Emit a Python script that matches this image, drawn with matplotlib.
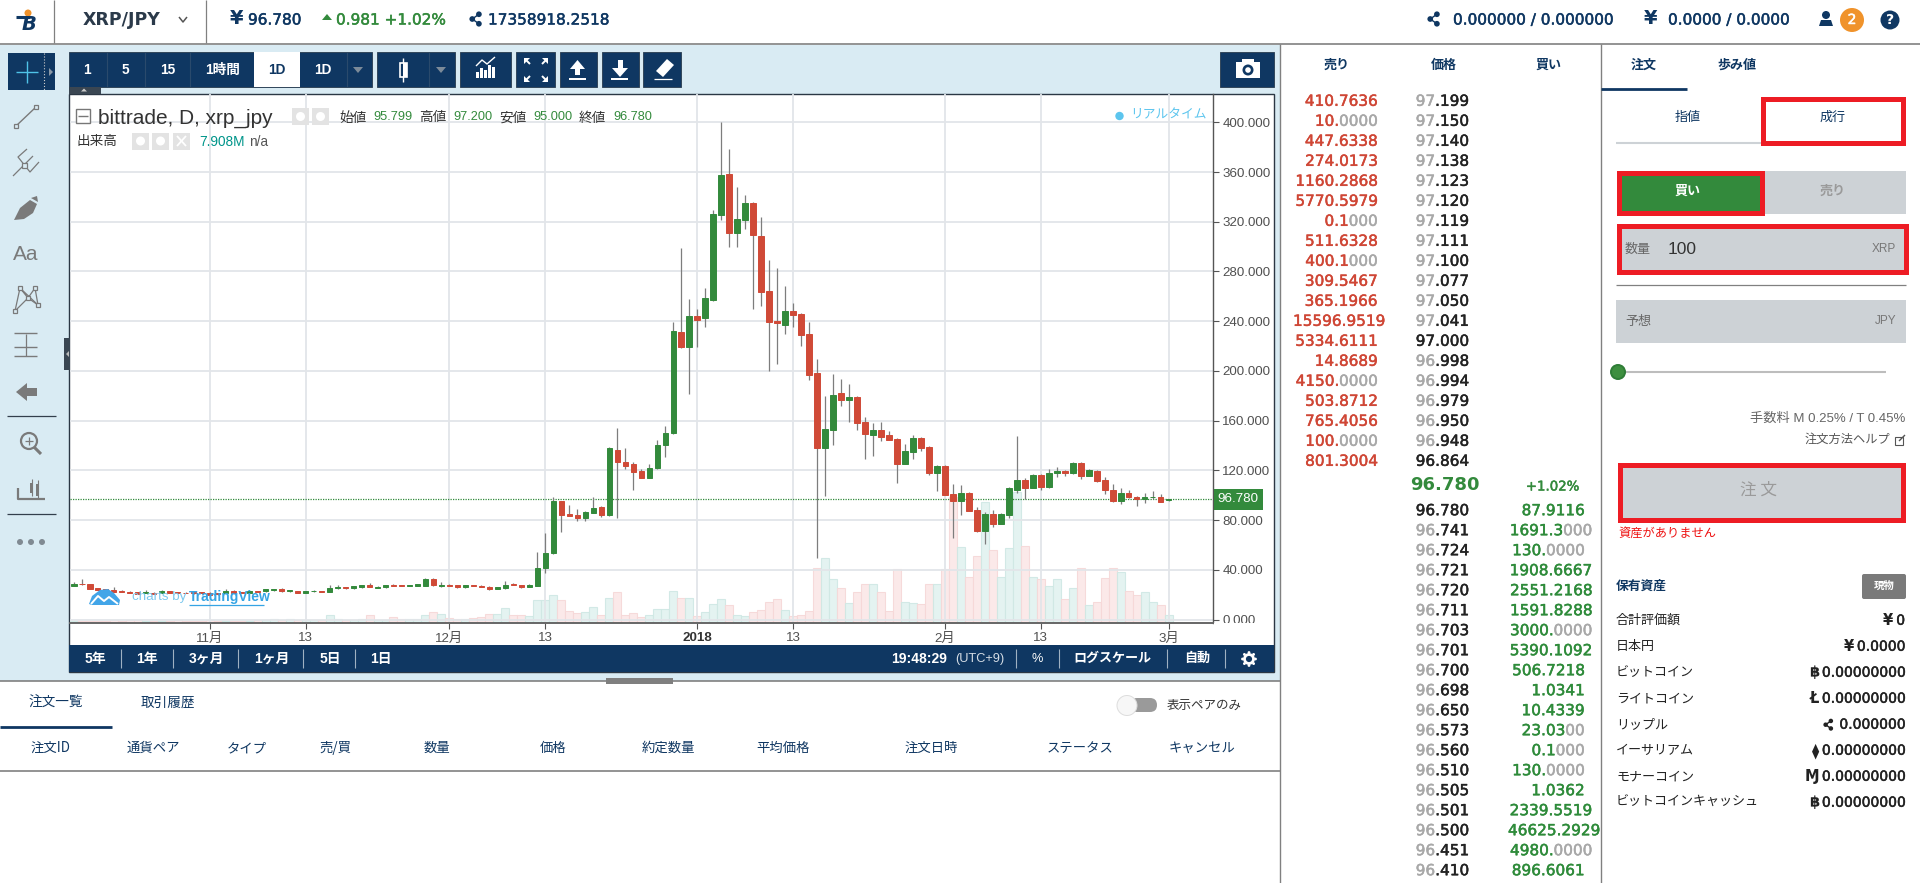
import matplotlib
matplotlib.use("Agg")
import matplotlib.pyplot as plt
import matplotlib.patheffects as pe
from matplotlib.patches import Rectangle, Circle, Polygon, FancyBboxPatch

# ---------- data ----------
opens = [27.3,29.0,28.7,25.5,24.5,24.0,23.0,22.5,21.8,21.3,21.6,21.3,22.8,21.9,21.6,22.2,21.9,21.3,21.3,21.3,
         22.8,22.0,21.3,22.8,22.8,23.7,24.3,22.8,23.1,21.3,22.8,23.1,22.5,25.2,26.1,25.2,26.1,28.0,25.5,26.1,
         28.0,27.6,27.0,27.0,27.1,32.7,27.3,28.0,27.6,26.0,27.9,27.3,26.4,24.6,25.2,28.4,27.8,26.1,27.3,41.8,
         53.4,95.1,84.7,83.8,82.0,86.1,90.3,83.8,136.7,126.9,125.1,119.8,114.1,121.6,140.3,149.8,231.3,219.1,243.8,242.3,
         256.9,325.3,358.7,310.8,321.8,334.9,308.4,264.1,240.3,237.3,248.0,245.9,229.5,198.6,137.9,152.8,182.2,176.6,179.3,158.8,
         148.3,152.2,148.3,145.4,125.4,134.9,146.2,138.8,118.0,123.6,101.0,95.7,102.2,88.5,71.3,85.0,77.2,83.8,104.6,112.0,
         106.1,116.5,107.0,118.0,119.5,118.0,126.0,115.9,119.5,112.3,104.6,95.7,101.9,98.9,96.8,98.3,98.9,95.799]
highs = [30.0,32.5,29.0,25.8,25.0,26.0,23.8,23.0,22.0,23.5,22.0,23.5,23.2,22.1,22.0,22.6,22.2,21.8,21.6,24.5,
         23.5,22.3,23.2,23.3,24.6,24.9,25.5,24.2,23.4,23.4,24.0,23.4,28.0,28.0,26.4,26.8,28.2,29.8,26.7,28.2,
         28.3,28.0,28.2,28.9,33.2,33.5,30.0,28.4,27.9,28.2,28.2,27.6,26.7,26.4,31.0,29.5,28.0,28.5,54.6,69.5,
         98.7,95.5,92.1,89.1,87.0,98.7,91.0,138.8,154.3,137.9,126.6,121.3,124.8,144.8,156.0,239.4,298.9,257.5,249.8,267.0,
         329.2,400.3,378.3,348.0,341.4,335.8,323.9,289.3,282.5,268.2,254.5,246.5,239.4,209.3,179.6,197.4,193.9,189.1,180.2,162.9,
         158.2,159.0,151.6,146.0,140.9,148.3,147.0,139.3,124.5,124.0,109.0,108.2,102.8,90.9,86.8,88.5,85.6,106.3,147.4,113.5,
         117.0,117.0,121.3,122.4,120.0,126.5,126.5,121.3,120.1,114.7,109.0,105.8,104.6,99.5,101.6,103.4,101.0,97.2]
lows = [27.0,28.0,24.8,23.8,23.0,22.0,22.2,21.0,20.6,21.0,20.7,21.0,21.0,21.0,21.0,20.6,21.0,19.5,20.0,21.0,
        21.0,21.0,21.0,22.0,22.5,23.4,22.5,22.5,21.0,21.0,22.5,22.2,22.3,24.9,24.9,25.0,25.8,26.0,25.2,25.8,
        26.7,26.8,26.7,26.8,26.9,27.3,26.5,26.8,25.6,25.8,27.0,26.0,23.9,24.4,24.9,27.5,25.8,25.9,27.0,37.7,
        53.0,70.4,83.0,79.3,79.3,85.8,82.3,83.4,81.4,121.0,104.6,113.8,113.8,121.3,130.5,149.5,218.8,181.4,219.1,235.5,
        256.5,321.8,299.5,299.5,314.3,249.8,251.9,199.8,205.7,229.5,235.5,220.0,193.0,49.6,99.3,140.3,171.5,159.0,152.8,129.3,
        131.4,143.3,144.5,110.2,125.0,129.3,135.8,116.5,103.1,100.0,65.3,83.8,87.0,70.4,60.9,74.3,76.8,81.7,102.2,96.9,
        105.5,104.6,105.8,115.0,115.6,117.5,112.9,115.5,110.5,101.3,94.5,92.7,97.8,91.5,93.6,96.8,94.2,95.0]
closes = [29.0,28.5,25.0,24.0,23.5,22.5,22.5,21.3,20.9,22.2,20.9,23.1,21.3,21.3,21.3,21.0,21.4,19.9,20.4,23.1,
          21.3,21.3,22.8,22.2,24.3,24.3,22.8,23.7,21.3,23.1,23.4,22.5,25.2,26.4,25.2,26.7,28.0,26.2,26.4,28.0,
          27.1,27.0,27.9,28.8,32.7,27.6,28.1,27.0,26.0,27.9,27.3,26.4,24.3,26.1,28.1,27.8,26.1,27.9,41.8,53.7,
          95.1,84.1,83.5,82.0,86.4,89.4,83.8,137.9,126.6,123.6,118.9,114.1,122.2,140.3,150.1,232.2,219.1,243.8,241.2,258.4,
          325.9,357.8,310.8,322.1,334.9,309.0,263.5,239.4,238.2,248.0,245.3,229.0,197.1,137.9,153.4,181.0,176.6,179.3,158.2,149.5,
          152.2,146.5,144.8,125.4,135.8,146.2,137.9,117.7,123.6,100.4,95.7,102.2,87.6,71.3,85.0,77.2,85.0,105.8,112.0,106.1,
          116.5,107.0,118.3,119.5,118.0,126.0,115.6,120.0,111.7,104.3,95.7,101.6,98.6,97.1,98.9,98.9,94.5,96.78]
volumes = [1.2,1.0,1.2,1.2,1.0,1.5,1.2,2.0,1.5,1.2,1.0,0.8,0.8,1.5,0.8,1.0,1.2,1.5,1.2,1.2,
           1.0,1.2,1.2,1.5,2.0,2.5,2.2,2.5,1.8,1.8,1.5,2.2,7.0,3.0,2.0,1.5,2.5,7.0,1.5,2.0,
           5.2,2.8,3.0,3.0,7.9,11.2,8.3,3.7,3.0,3.5,4.5,5.0,8.3,8.7,15.4,7.0,7.0,5.8,24.1,24.1,
           29.5,24.1,12.1,10.0,11.2,16.6,7.9,26.6,32.9,7.9,9.6,5.0,7.1,14.6,14.6,34.1,26.6,26.6,6.2,10.4,
           19.6,25.0,18.3,7.1,6.2,10.4,12.9,22.0,25.0,12.9,6.2,7.9,12.0,60.2,71.0,48.2,37.8,20.8,33.3,41.9,
           41.9,33.3,12.0,58.9,22.0,20.8,19.6,41.9,41.9,58.9,140.0,83.9,50.0,73.6,134.0,79.9,50.0,82.7,146.0,85.4,
           50.0,47.4,39.5,47.4,25.0,38.3,59.9,18.3,21.6,49.0,59.9,55.7,34.9,29.9,32.9,21.6,19.1,7.908]
last_price = 96.78
price_ticks = [0,40,80,120,160,200,240,280,320,360,400]
date_tick_pos = [17,29,47,59,78,90,109,121,137]
date_tick_labels = ["11月","13","12月","13","2018","13","2月","13","3月"]

sell_sizes = ["410.7636","10.0000","447.6338","274.0173","1160.2868","5770.5979","0.1000","511.6328","400.1000","309.5467",
              "365.1966","15596.9519","5334.6111","14.8689","4150.0000","503.8712","765.4056","100.0000","801.3004"]
sell_prices = ["97.199","97.150","97.140","97.138","97.123","97.120","97.119","97.111","97.100","97.077",
               "97.050","97.041","97.000","96.998","96.994","96.979","96.950","96.948","96.864"]
buy_prices = ["96.780","96.741","96.724","96.721","96.720","96.711","96.703","96.701","96.700","96.698",
              "96.650","96.573","96.560","96.510","96.505","96.501","96.500","96.451","96.410"]
buy_sizes = ["87.9116","1691.3000","130.0000","1908.6667","2551.2168","1591.8288","3000.0000","5390.1092","506.7218","1.0341",
             "10.4339","23.0300","0.1000","130.0000","1.0362","2339.5519","46625.2929","4980.0000","896.6061"]
black_prices = {"97.000","96.864","96.780"}
order_headers = ["注文ID","通貨ペア","タイプ","売/買","数量","価格","約定数量","平均価格","注文日時","ステータス","キャンセル"]
asset_names = ["合計評価額","日本円","ビットコイン","ライトコイン","リップル","イーサリアム","モナーコイン","ビットコインキャッシュ"]
asset_values = ["0","0.0000","0.00000000","0.00000000","0.000000","0.00000000","0.00000000","0.00000000"]
asset_marks = ["¥","¥","฿","Ł","","⧫","Ɱ","฿"]

# ---------- style ----------
NAVY = "#0f3762"; GREEN = "#338a3c"; RED = "#d04a37"; BOX = "#ed1c24"; GREY = "#cdd2d6"; PANEL = "#d9ebf3"
CJK = ["Liberation Sans", "Noto Sans CJK JP", "DejaVu Sans"]
JP = ["Noto Sans CJK JP", "DejaVu Sans"]
DV = ["DejaVu Sans", "Noto Sans CJK JP"]

fig = plt.figure(figsize=(19.2, 8.83), dpi=100, facecolor="white")

def px_axes(z):
    a = fig.add_axes([0, 0, 1, 1], zorder=z, xlim=(0, 1920), ylim=(883, 0))
    a.axis("off")
    a.patch.set_alpha(0)
    return a

ui = px_axes(0)
fg = px_axes(10)

def rect(a, x0, y0, x1, y1, fc="none", ec="none", lw=0, z=1):
    a.add_patch(Rectangle((x0, y0), x1 - x0, y1 - y0, fc=fc, ec=ec, lw=lw, zorder=z))

def line(a, xs, ys, c, lw=1.0, z=2, **kw):
    a.plot(xs, ys, color=c, lw=lw, zorder=z, solid_capstyle="butt", **kw)

def txt(a, x, y, s, size=9, color="#222222", ha="center", fam=JP, weight="normal", z=5, **kw):
    t = a.text(x, y, s, fontsize=size, color=color, ha=ha, va="center", family=fam, weight=weight, zorder=z, **kw)
    if fam is DV and weight == "normal":
        t.set_path_effects([pe.withStroke(linewidth=0.35, foreground=color)])
    return t

def dot(a, x, y, r, c, z=4, **kw):
    a.add_patch(Circle((x, y), r, fc=c, ec="none", zorder=z, **kw))

def ripple(a, x, y, c, s=1.0):
    for dx, dy in [(-5, 0), (2, -5), (2, 5)]:
        dot(a, x + dx * s, y + dy * s, 3 * s, c)
    line(a, [x + 2 * s, x - 5 * s, x + 2 * s], [y - 5 * s, y, y + 5 * s], c, 1.0)

renderer = fig.canvas.get_renderer()

def segs(a, x, y, parts, size=11, ha="left", fam=DV):
    """Draw consecutive coloured pieces of one number."""
    items = [txt(a, 0, y, s, size, c, ha="left", fam=fam) for s, c in parts if s]
    widths = [t.get_window_extent(renderer).width for t in items]
    cur = x - sum(widths) if ha == "right" else x
    for t, w in zip(items, widths):
        t.set_x(cur)
        cur += w

def split_zero(s):
    core = s.rstrip("0")
    return core, s[len(core):]

# ---------- background panels ----------
rect(ui, 0, 45, 1280, 681, fc=PANEL)
line(ui, [0, 1920], [44, 44], "#808080", 1.2)
line(ui, [54, 54], [0, 43], "#808080", 0.9)
line(ui, [206, 206], [0, 43], "#808080", 0.9)
line(ui, [1280, 1280], [44, 883], "#808080", 1.0)
line(ui, [1600.5, 1600.5], [44, 883], "#808080", 1.0)
line(ui, [0, 1280], [681, 681], "#808080", 1.2)
rect(ui, 606, 678, 673, 684, fc="#7f7f7f", z=3)

# ---------- top bar ----------
dot(ui, 28, 13, 3.5, "#f0932b")
txt(ui, 29, 24, "B", 14, NAVY, fam=DV, weight="bold", style="italic")
line(ui, [16, 30], [17, 17], NAVY, 2.2)
txt(ui, 83, 20, "XRP/JPY", 12.5, "#2b3a4a", ha="left", fam=DV, weight="bold")
line(ui, [179, 183, 187], [17, 22, 17], "#555555", 1.1)
txt(ui, 237, 19, "¥", 14, NAVY, fam=DV, weight="bold")
txt(ui, 248, 20, "96.780", 11, NAVY, ha="left", fam=DV)
ui.add_patch(Polygon([[322, 20], [332, 20], [327, 14]], fc=GREEN, ec="none"))
txt(ui, 336, 20, "0.981 +1.02%", 11, GREEN, ha="left", fam=DV)
ripple(ui, 477, 19, NAVY, 0.95)
txt(ui, 488, 20, "17358918.2518", 11, NAVY, ha="left", fam=DV)
ripple(ui, 1435, 19, NAVY, 0.95)
txt(ui, 1453, 20, "0.000000 / 0.000000", 11, NAVY, ha="left", fam=DV)
txt(ui, 1651, 19, "¥", 14, NAVY, fam=DV, weight="bold")
txt(ui, 1668, 20, "0.0000 / 0.0000", 11, NAVY, ha="left", fam=DV)
dot(ui, 1826, 15, 4, NAVY)
ui.add_patch(Polygon([[1819, 26], [1833, 26], [1831, 20], [1821, 20]], fc=NAVY, ec="none"))
dot(ui, 1852, 20, 12, "#f0932b")
txt(ui, 1852, 20, "2", 10, "white", fam=DV)
dot(ui, 1890, 20, 9.5, NAVY)
txt(ui, 1890, 20, "?", 10, "white", fam=DV, weight="bold")

# ---------- chart toolbar ----------
for x0, x1 in [(69, 372), (377, 455), (460, 511), (516, 555), (560, 597), (602, 639), (643, 681), (1220, 1274)]:
    rect(ui, x0, 51.5, x1, 87, fc=NAVY, ec="#33475b", lw=0.7)
rect(ui, 254, 52, 300, 86.5, fc="white", z=2)
for x in [107, 145, 190, 347, 429]:
    line(ui, [x, x], [52, 87], "#2a4a6c", 0.8)
for x, s, c in [(87, "1", "white"), (125.5, "5", "white"), (168, "15", "white"), (223, "1時間", "white"),
                (277, "1D", NAVY), (323, "1D", "white")]:
    txt(ui, x, 70, s, 9.8, c, fam=CJK, weight="bold")
for x in [358, 441]:
    ui.add_patch(Polygon([[x - 5, 67], [x + 5, 67], [x, 73]], fc="#7c8b99", ec="none", zorder=3))
# candle icon
line(ui, [403, 403], [58, 82], "white", 1.0)
rect(ui, 399.5, 63, 406.5, 77, fc=NAVY, ec="white", lw=1.2, z=3)
rect(ui, 403, 63, 406.5, 77, fc="white", z=3)
# indicator icon
for i, h in enumerate([6, 10, 8, 13, 11]):
    rect(ui, 476 + i * 4, 78 - h, 479 + i * 4, 78, fc="white", z=3)
line(ui, [476, 482, 487, 495], [66, 60, 64, 57], "white", 1.0, z=3)
# fullscreen icon
for sx, sy in [(-1, -1), (1, -1), (-1, 1), (1, 1)]:
    cx, cy = 536 + sx * 8, 70 + sy * 8
    ui.add_patch(Polygon([[cx + sx * 4, cy + sy * 4], [cx - sx * 2, cy + sy * 4], [cx + sx * 4, cy - sy * 2]],
                         fc="white", ec="none", zorder=3))
    line(ui, [cx - sx * 2, cx + sx * 2], [cy - sy * 2, cy + sy * 2], "white", 1.4, z=3)
# upload / download
ui.add_patch(Polygon([[570, 69], [577.5, 60], [585, 69]], fc="white", ec="none", zorder=3))
rect(ui, 575, 69, 580, 75, fc="white", z=3)
rect(ui, 569, 77.5, 586, 79.5, fc="white", z=3)
ui.add_patch(Polygon([[612, 68], [620, 77], [628, 68]], fc="white", ec="none", zorder=3))
rect(ui, 617.5, 60, 622.5, 68, fc="white", z=3)
rect(ui, 611, 77.5, 628, 79.5, fc="white", z=3)
# eraser
ui.add_patch(Polygon([[656, 71], [667, 59], [674, 65], [663, 77]], fc="white", ec="none", zorder=3))
line(ui, [654, 672], [79, 79], "white", 0.9, z=3)
# camera
rect(ui, 1236, 62, 1260, 78, fc="white", z=3)
rect(ui, 1242, 59, 1254, 63, fc="white", z=3)
dot(ui, 1248, 70, 5.5, NAVY, z=4)
dot(ui, 1248, 70, 2.8, "white", z=5)
rect(ui, 69, 87, 101, 93.5, fc="#3a4652", z=2)
ui.add_patch(Polygon([[81, 91.5], [87, 91.5], [84, 88.5]], fc="#cccccc", ec="none", zorder=3))

# ---------- left drawing tools ----------
ICON = "#7a7a7a"
rect(ui, 8, 53, 55, 90, fc=NAVY)
line(ui, [16, 38], [72, 72], "#4fc3e8", 1.0, z=3)
line(ui, [27, 27], [61, 83], "#4fc3e8", 1.0, z=3)
line(ui, [44, 44], [53, 90], "#cccccc", 0.8, z=3, linestyle=":")
ui.add_patch(Polygon([[49, 68], [53, 72], [49, 76]], fc="#8a98a6", ec="none", zorder=3))
rect(ui, 64, 338, 70, 370, fc="#3a4652", z=3)
ui.add_patch(Polygon([[69, 351], [69, 357], [66, 354]], fc="#bbbbbb", ec="none", zorder=4))
# line tool
line(ui, [16, 36], [126, 107], ICON, 1.0)
rect(ui, 14, 123.5, 18, 127.5, fc=PANEL, ec=ICON, lw=0.9, z=3)
rect(ui, 34, 105, 38, 109, fc=PANEL, ec=ICON, lw=0.9, z=3)
# pitchfork
line(ui, [13, 24], [176, 165], ICON, 0.9)
line(ui, [27, 18, 30, 39], [149, 157, 172, 162], ICON, 0.9)
line(ui, [24, 33], [165, 156], ICON, 0.9)
rect(ui, 21.5, 162.5, 26.5, 167.5, fc=PANEL, ec=ICON, lw=0.9, z=3)
# brush
ui.add_patch(Polygon([[14, 220], [20, 208], [30, 200], [37, 204], [33, 213], [24, 219]], fc=ICON, ec="none", zorder=3))
ui.add_patch(Polygon([[31, 198], [37, 196], [38, 202]], fc=ICON, ec="none", zorder=3))
txt(ui, 26, 254, "Aa", 15, ICON, fam=["Liberation Sans"])
# pattern tool
pts = [(15, 311), (20, 288), (28, 298), (35, 288), (38, 305)]
line(ui, [p[0] for p in pts] + [20], [p[1] for p in pts] + [288], ICON, 0.9)
line(ui, [15, 28, 38], [311, 298, 305], ICON, 0.9)
for p in pts:
    rect(ui, p[0] - 2, p[1] - 2, p[0] + 2, p[1] + 2, fc=PANEL, ec=ICON, lw=0.9, z=3)
# fib tool
for y in [333, 347, 356]:
    line(ui, [14, 37], [y, y], ICON, 1.0)
line(ui, [25.5, 25.5], [334, 356], ICON, 0.9)
# back arrow
ui.add_patch(Polygon([[16, 392], [27, 383], [27, 388], [37, 388], [37, 396], [27, 396], [27, 401]], fc=ICON, ec="none", zorder=3))
line(ui, [7, 56], [416, 416], "#333f4c", 0.9)
# magnifier
ui.add_patch(Circle((29, 441), 8, fc="none", ec=ICON, lw=1.6, zorder=3))
line(ui, [34, 41], [447, 454], ICON, 2.2)
line(ui, [25, 33], [441, 441], ICON, 0.9)
line(ui, [29, 29], [437, 445], ICON, 0.9)
# ruler
line(ui, [18, 18, 45], [488, 499, 499], ICON, 1.6)
rect(ui, 30, 483, 33, 493, fc=ICON, z=3)
rect(ui, 36, 484, 39, 496, fc=ICON, z=3)
line(ui, [31.5, 31.5], [479, 496], ICON, 0.8)
line(ui, [37.5, 37.5], [480, 499], ICON, 0.8)
line(ui, [7, 56], [514, 514], "#333f4c", 0.9)
for x in [20, 31, 42]:
    dot(ui, x, 542, 3, "#808a92")

# ---------- chart frame ----------
rect(ui, 69, 93.5, 1273.5, 672, fc="white", ec="#2b3744", lw=1.0)
rect(ui, 69, 645, 1273.5, 672, fc=NAVY, z=2)

# ---------- chart ----------
pos = [70 / 1920, 1 - 622.7 / 883, (1212.7 - 70) / 1920, 529 / 883]
days = list(range(len(closes)))
xlim = (-0.476, 142.5)

vax = fig.add_axes(pos, zorder=1, facecolor="none")
vax.set_xlim(*xlim)
vax.set_ylim(-1.2, 593)
vax.axis("off")
vol_fc = ["#e2f2f0" if c >= o else "#fbe7e7" for o, c in zip(opens, closes)]
vol_ec = ["#cfe8e4" if c >= o else "#f6d8d8" for o, c in zip(opens, closes)]
vax.bar(days, volumes, width=1.0, color=vol_fc, edgecolor=vol_ec, linewidth=0.8, alpha=0.9)

ax = fig.add_axes(pos, zorder=2, facecolor="none")
ax.set_xlim(*xlim)
ax.set_ylim(-2.5, 423)
ax.grid(True, color="#e2e5e9", lw=1.3, zorder=0)
ax.set_axisbelow(True)
ax.yaxis.tick_right()
ax.set_yticks(price_ticks)
ax.set_yticklabels([f"{v:.3f}" for v in price_ticks], family=CJK, fontsize=9.6, color="#505050")
ax.set_xticks(date_tick_pos)
ax.set_xticklabels(date_tick_labels, family=CJK, fontsize=9.6, color="#505050")
for lab in ax.get_xticklabels():
    if lab.get_text() == "2018":
        lab.set_fontweight("bold")
        lab.set_color("#333333")
ax.tick_params(axis="y", length=4, width=0.8, color="#555555", pad=3)
ax.tick_params(axis="x", length=4, width=0.8, color="#555555", pad=3)
for side in ["top", "left"]:
    ax.spines[side].set_visible(False)
ax.spines["right"].set_color("#555555")
ax.spines["right"].set_linewidth(1.0)
ax.spines["bottom"].set_color("#666666")
ax.spines["bottom"].set_linewidth(1.4)

ax.vlines(days, lows, highs, color="#7d7d7d", lw=0.9, zorder=3)
candle_colors = [GREEN if c >= o else RED for o, c in zip(opens, closes)]
ax.bar(days, [abs(c - o) for o, c in zip(opens, closes)], bottom=[min(o, c) for o, c in zip(opens, closes)],
       width=0.68, color=candle_colors, edgecolor=candle_colors, linewidth=0.7, zorder=4)
ax.axhline(last_price, color=GREEN, lw=0.9, ls=(0, (1, 1)), zorder=2)
ax.annotate(f"{last_price:.3f}", xy=(1.0045, last_price), xycoords=("axes fraction", "data"), ha="left", va="center",
            fontsize=9.6, color="white", family=CJK, annotation_clip=False, zorder=6,
            bbox=dict(boxstyle="square,pad=0.32", fc=GREEN, ec="none"))

# chart legends
rect(fg, 76, 109, 90, 123, fc="white", ec="#777777", lw=1.0)
line(fg, [78, 88], [116, 116], "#777777", 1.0)
txt(fg, 98, 118, "bittrade, D, xrp_jpy", 15, "#333333", ha="left", fam=CJK)
for x0, x1 in [(292, 309), (312, 329)]:
    rect(fg, x0, 108, x1, 125, fc="#e3e3e3")
    dot(fg, (x0 + x1) / 2, 116.5, 4.5, "white")
for x, k, xv, v in [(339, "始値", 373.5, "95.799"), (419, "高値", 453.5, "97.200"),
                    (499, "安値", 533.5, "95.000"), (579, "終値", 613.5, "96.780")]:
    txt(fg, x, 117.5, k, 9.8, "#333333", ha="left", fam=CJK)
    txt(fg, xv, 117.5, v, 9.2, GREEN, ha="left", fam=CJK)
txt(fg, 77, 141, "出来高", 9.8, "#333333", ha="left", fam=CJK)
for x0, x1 in [(132, 149), (152, 169), (173, 190)]:
    rect(fg, x0, 132.5, x1, 150, fc="#e3e3e3")
dot(fg, 140.5, 141, 4.5, "white")
dot(fg, 160.5, 141, 4.5, "white")
line(fg, [177, 186], [136, 146], "white", 1.3)
line(fg, [177, 186], [146, 136], "white", 1.3)
txt(fg, 199, 141.5, "7.908M", 9.8, "#00958a", ha="left", fam=CJK)
txt(fg, 249, 141.5, "n/a", 9.8, "#555555", ha="left", fam=CJK)
dot(fg, 1119.5, 116, 4.2, "#5cc5ee")
txt(fg, 1130, 115, "リアルタイム", 9.2, "#5cc5ee", ha="left", fam=CJK)
# TradingView mark
fg.add_patch(Polygon([[89, 604], [92, 596], [100, 590], [108, 589], [114, 593], [120, 600], [119, 605], [92, 605]],
                     fc="#42a5e8", ec="none", zorder=3))
line(fg, [91, 98, 104, 109, 118], [604, 596, 601, 597, 604], "white", 1.4, z=4)
txt(fg, 132.5, 597, "charts by", 9.6, "#7cc8ee", ha="left", fam=CJK)
txt(fg, 189, 597, "TradingView", 10, "#36a4e4", ha="left", fam=CJK, weight="bold")
line(fg, [189, 264], [605, 605], "#36a4e4", 0.9)
# covers the lower half of the clipped 0.000 label
rect(fg, 1213.5, 623.3, 1272.8, 644.8, fc="white", z=1)

# chart bottom toolbar
for x, s in [(95.5, "5年"), (147, "1年"), (206.5, "3ヶ月"), (272, "1ヶ月"), (330, "5日"), (381, "1日")]:
    txt(fg, x, 659, s, 10, "white", fam=CJK, weight="bold")
for x in [121, 173, 238, 303, 355, 1016, 1059, 1167, 1224.5]:
    line(fg, [x, x], [649, 668], "#9fb1c2", 0.8)
txt(fg, 891, 659, "19:48:29", 10, "white", ha="left", fam=CJK, weight="bold")
txt(fg, 955, 659, "(UTC+9)", 9.2, "#d5dde5", ha="left", fam=CJK)
txt(fg, 1037, 659, "%", 9.2, "white", fam=CJK)
txt(fg, 1112, 659, "ログスケール", 9.4, "white", fam=CJK, weight="bold")
txt(fg, 1197, 659, "自動", 9.4, "white", fam=CJK, weight="bold")
fg.add_patch(Circle((1249, 659), 4.5, fc="none", ec="white", lw=2.0, zorder=4))
for dx, dy in [(0, 6.5), (0, -6.5), (6.5, 0), (-6.5, 0), (4.6, 4.6), (-4.6, 4.6), (4.6, -4.6), (-4.6, -4.6)]:
    dot(fg, 1249 + dx, 659 + dy, 1.4, "white")

# ---------- lower table ----------
txt(ui, 56, 703, "注文一覧", 9.8, NAVY)
txt(ui, 168, 703, "取引履歴", 9.8, NAVY)
line(ui, [0, 112], [727, 727], NAVY, 2)
ui.add_patch(FancyBboxPatch((1130, 698), 27, 14, boxstyle="round,pad=0,rounding_size=7", fc="#9a9a9a", ec="none", zorder=2))
dot(ui, 1127, 705.5, 10, "#f7f7f7", z=3)
ui.add_patch(Circle((1127, 705.5), 10, fc="none", ec="#dddddd", lw=0.7, zorder=3))
txt(ui, 1204, 705, "表示ペアのみ", 9, "#333333")
for x, s in zip([50, 153, 246.5, 335.5, 437, 553, 668, 783, 931, 1080, 1201.6], order_headers):
    txt(ui, x, 748, s, 9.6, NAVY)
line(ui, [0, 1280], [771, 771], "#808080", 1.2)

# ---------- order book ----------
txt(ui, 1337, 65, "売り", 9.4, NAVY, weight="bold")
txt(ui, 1444, 65, "価格", 9.4, NAVY, weight="bold")
txt(ui, 1549, 65, "買い", 9.4, NAVY, weight="bold")
BOOK_RED = "#cf4635"; BOOK_GREEN = "#2e8b3a"; GR = "#a8a8a8"; BLK = "#222222"

def price_cell(y, p):
    if p in black_prices:
        segs(ui, 1415.7, y, [(p, BLK)])
    else:
        segs(ui, 1415.7, y, [(p[:2], GR), (p[2:], BLK)])

def size_cell(y, s, right, col):
    core, zeros = split_zero(s)
    segs(ui, right, y, [(core, col), (zeros, GR)], ha="right")

for i, (sz, p) in enumerate(zip(sell_sizes, sell_prices)):
    y = 101.3 + 20 * i
    size_cell(y, sz, 1385 if len(sz) == 10 else 1377.5, BOOK_RED)
    price_cell(y, p)
txt(ui, 1445, 484.5, "96.780", 13, GREEN, fam=DV, weight="bold")
txt(ui, 1552.7, 487, "+1.02%", 9.6, GREEN, fam=DV)
for i, (sz, p) in enumerate(zip(buy_sizes, buy_prices)):
    y = 510.7 + 20 * i
    price_cell(y, p)
    size_cell(y, sz, {9: 1592, 10: 1600}.get(len(sz), 1584.5), BOOK_GREEN)

# ---------- order panel ----------
txt(ui, 1644, 65, "注文", 9.4, NAVY, weight="bold")
txt(ui, 1737, 65, "歩み値", 9.4, NAVY, weight="bold")
line(ui, [1601, 1687], [89, 89], NAVY, 2)
txt(ui, 1688, 117, "指値", 9.4, NAVY)
txt(ui, 1833, 117, "成行", 9.4, NAVY)
line(ui, [1616, 1906], [143, 143], GREY, 1.5)
rect(ui, 1762.5, 98.5, 1902.5, 142.5, ec=BOX, lw=3.6, z=4)
rect(ui, 1764, 171, 1906, 214, fc=GREY)
rect(ui, 1618.5, 172.5, 1761.5, 212.5, fc=GREEN, ec=BOX, lw=3.6, z=4)
txt(ui, 1688, 191, "買い", 9.4, "white", weight="bold")
txt(ui, 1833, 191, "売り", 9.4, "#9a9a9a", weight="bold")
rect(ui, 1618.5, 225.5, 1905.5, 271.5, fc=GREY, ec=BOX, lw=3.6, z=4)
txt(ui, 1625, 249, "数量", 9.4, "#666666", ha="left")
txt(ui, 1668, 249, "100", 12.5, "#333333", ha="left", fam=CJK)
txt(ui, 1896, 249, "XRP", 8.5, "#777777", ha="right", fam=CJK)
line(ui, [1616, 1906], [285, 285], "#808080", 0.9)
rect(ui, 1616, 300, 1906, 343, fc=GREY)
txt(ui, 1625, 321, "予想", 9.4, "#666666", ha="left")
txt(ui, 1896, 321, "JPY", 8.5, "#777777", ha="right", fam=CJK)
line(ui, [1618, 1886], [372, 372], "#bdbdbd", 1.5)
dot(ui, 1618, 372, 8, "#2f7d37")
dot(ui, 1618, 372, 6, "#3d8f3f", z=5)
txt(ui, 1905, 419, "手数料 M 0.25% / T 0.45%", 9.5, "#666666", ha="right", fam=CJK)
txt(ui, 1890, 440, "注文方法ヘルプ", 8.8, "#555555", ha="right", fam=CJK)
rect(ui, 1895, 437, 1903, 445, ec="#555555", lw=0.8, z=3)
line(ui, [1899, 1905], [441, 435], "#555555", 1.0, z=4)
rect(ui, 1619.5, 464.5, 1902.5, 519.5, fc=GREY, ec=BOX, lw=3.6, z=4)
txt(ui, 1759, 490, "注 文", 12, "#9a9a9a")
txt(ui, 1618, 533, "資産がありません", 8.8, "#ee1111", ha="left")

# ---------- assets ----------
txt(ui, 1616, 586, "保有資産", 9.2, NAVY, ha="left", weight="bold")
ui.add_patch(FancyBboxPatch((1862, 574), 44, 25, boxstyle="round,pad=0,rounding_size=2", fc="#7a7a7a", ec="none", zorder=2))
txt(ui, 1884, 586, "現物", 7.5, "white", weight="bold")
for i, (n, v, m) in enumerate(zip(asset_names, asset_values, asset_marks)):
    y = 620.7 + 26 * i
    txt(ui, 1616, y, n, 9.4, "#222222", ha="left")
    t = txt(ui, 1905, y, v, 10, "#222222", ha="right", fam=DV)
    left = 1905 - t.get_window_extent(renderer).width
    if m:
        txt(ui, left - 3, y, m, 10.5, "#222222", ha="right", fam=DV, weight="bold")
    else:
        ripple(ui, left - 10, y, "#222222", 0.75)

fig.savefig("out.png", dpi=100, facecolor="white")
